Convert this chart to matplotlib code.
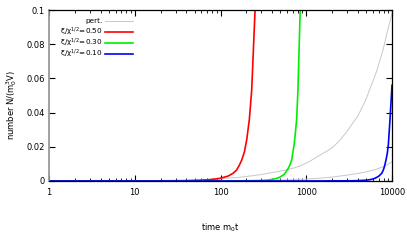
import matplotlib
matplotlib.use("Agg")
import matplotlib.pyplot as plt
from matplotlib.ticker import FixedLocator, FixedFormatter, LogLocator, NullFormatter

plt.rcParams['font.family'] = ['DejaVu Sans']
plt.rcParams['mathtext.default'] = 'regular'

# ---- data ----
pert_hi_t = [1, 30, 60, 100, 160, 221, 300, 378, 550, 700, 846, 1100, 1446, 1750, 2070, 2475,
             3000, 3500, 4000, 4430, 5000, 5540, 6170, 6700, 7250, 7900, 8500, 9200, 10000]
pert_hi_N = [0, 0.0002, 0.0006, 0.0013, 0.0021, 0.0029, 0.0038, 0.0047, 0.0062, 0.0075, 0.0088,
             0.0115, 0.0152, 0.0175, 0.020, 0.024, 0.029, 0.034, 0.038, 0.0425, 0.048, 0.054,
             0.060, 0.065, 0.0708, 0.077, 0.084, 0.091, 0.098]

pert_lo_t = [1, 100, 500, 1000, 1500, 2000, 2960, 4000, 5070, 6500, 7920, 9000, 10000]
pert_lo_N = [0, 0.0001, 0.0005, 0.0011, 0.0017, 0.0023, 0.0034, 0.0044, 0.0054, 0.0068, 0.0084, 0.0098, 0.0113]

red_t = [1, 20, 40, 60, 80, 99, 110, 123, 140, 154, 165, 177, 190, 202, 217, 231, 253, 265]
red_N = [0, 0.0001, 0.0002, 0.0005, 0.0009, 0.0016, 0.0022, 0.0029, 0.0045, 0.0064, 0.009, 0.0123, 0.017, 0.024, 0.036, 0.053, 0.1, 0.14]

green_t = [1, 100, 200, 300, 346, 396, 452, 494, 550, 601, 640, 676, 726, 773, 800, 850, 900]
green_N = [0, 0, 0.0001, 0.0003, 0.0005, 0.0009, 0.0015, 0.0023, 0.0038, 0.0064, 0.009, 0.0123, 0.022, 0.036, 0.053, 0.1, 0.15]

blue_t = [1, 100, 1000, 3000, 4000, 5070, 5700, 6340, 7000, 7590, 7920, 8200, 8510, 8800, 9060, 9480, 10000]
blue_N = [0, 0, 0, 0.0001, 0.0002, 0.0005, 0.0009, 0.0016, 0.0028, 0.0045, 0.0064, 0.0088, 0.0123, 0.016, 0.021, 0.036, 0.056]

labels = ['pert.', 'ξ/χ$^{1/2}$=0.50', 'ξ/χ$^{1/2}$=0.30', 'ξ/χ$^{1/2}$=0.10']
colors = ['#c8c8c8', '#ff0000', '#00ee00', '#0000ff']

x_ticks = [1, 10, 100, 1000, 10000]
x_ticklabels = ['1', '10', '100', '1000', '10000']
y_ticks = [0, 0.02, 0.04, 0.06, 0.08, 0.1]
y_ticklabels = ['0', '0.02', '0.04', '0.06', '0.08', '0.1']

# ---- figure ----
W, H = 407, 244
fig = plt.figure(figsize=(W / 100, H / 100), dpi=100)
ax = fig.add_axes([49 / W, 1 - 181 / H, (392 - 49) / W, (181 - 10) / H])

ax.plot(pert_hi_t, pert_hi_N, color=colors[0], lw=0.7)
ax.plot(pert_lo_t, pert_lo_N, color=colors[0], lw=0.7)
ax.plot(red_t, red_N, color=colors[1], lw=1.2)
ax.plot(green_t, green_N, color=colors[2], lw=1.2)
ax.plot(blue_t, blue_N, color=colors[3], lw=1.2)

ax.set_xscale('log')
ax.set_xlim(1, 10000)
ax.set_ylim(0, 0.1)

ax.xaxis.set_major_locator(FixedLocator(x_ticks))
ax.xaxis.set_major_formatter(FixedFormatter(x_ticklabels))
ax.xaxis.set_minor_locator(LogLocator(base=10, subs=range(2, 10)))
ax.xaxis.set_minor_formatter(NullFormatter())
ax.yaxis.set_major_locator(FixedLocator(y_ticks))
ax.yaxis.set_major_formatter(FixedFormatter(y_ticklabels))

ax.tick_params(axis='both', which='major', direction='in', length=4, width=0.8,
               top=True, right=True, labelsize=6, colors='black')
ax.tick_params(axis='both', which='minor', direction='in', length=2, width=0.6,
               top=True, right=True)
ax.tick_params(axis='x', which='major', pad=5)
ax.tick_params(axis='y', which='major', pad=3)

for s in ['top', 'right', 'bottom']:
    ax.spines[s].set_color('black')
    ax.spines[s].set_linewidth(0.9)
ax.spines['left'].set_color('#999999')
ax.spines['left'].set_linewidth(1.3)

# legend (gnuplot-style: right-aligned text, sample to the right)
leg_y = [21.0, 31.8, 42.9, 54.0]
for lab, col, yp in zip(labels, colors, leg_y):
    yf = 1 - yp / H
    fig.text(103 / W, yf, lab, ha='right', va='center', fontsize=5.2)
    fig.add_artist(plt.Line2D([105 / W, 133 / W], [yf, yf], color=col,
                              lw=0.7 if col == colors[0] else 1.2,
                              transform=fig.transFigure))

fig.text(220.5 / W, 1 - 228 / H, 'time m$_0$t', ha='center', va='center', fontsize=6)
fig.text(12 / W, 1 - 105 / H, 'number N/(m$_0^3$V)', ha='center', va='center',
         rotation=90, fontsize=6)

fig.savefig('out.png', dpi=100)
